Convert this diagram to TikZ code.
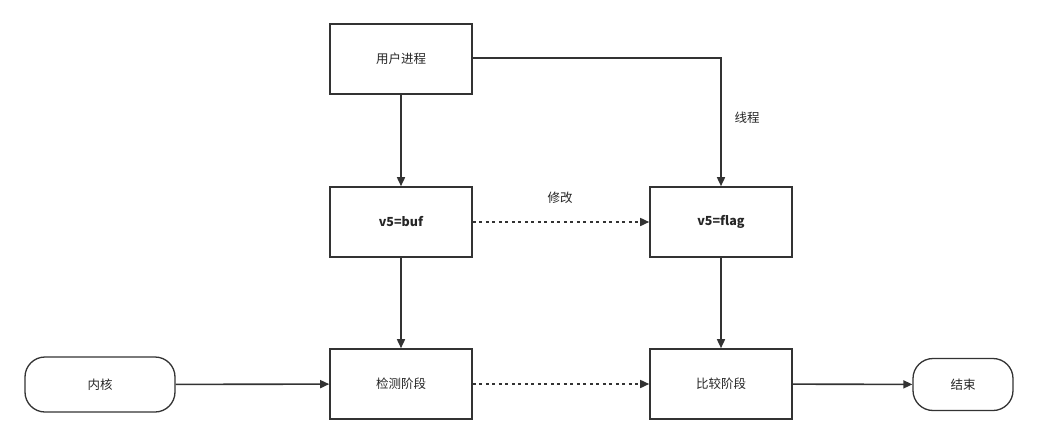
\documentclass[tikz,border=0pt]{standalone}
\usepackage{fontspec}
\setmainfont{Noto Sans CJK SC}
\usetikzlibrary{arrows.meta}
\begin{document}
\begin{tikzpicture}[x=1pt,y=-1pt,
  box/.style={draw=black!80,line width=1.6pt,minimum width=142pt,minimum height=70pt,inner sep=0pt,font=\fontsize{12.5}{14}\selectfont,text=black!85},
  term/.style={draw=black!80,line width=1.3pt,rounded corners=20pt,inner sep=0pt,font=\fontsize{12.5}{14}\selectfont,text=black!85},
  arr/.style={draw=black!80,line width=1.6pt,-{Triangle[length=9pt,width=8pt]}},
  darr/.style={arr,dash pattern=on 3pt off 3.5pt},
  lbl/.style={font=\fontsize{12.5}{14}\selectfont,text=black!85}]
\useasboundingbox (0,0) rectangle (1038,444);
\node[box] (user) at (401,59) {用户进程};
\node[box] (buf) at (401,222) {\bfseries v5=buf};
\node[box] (flag) at (721,222) {\bfseries v5=flag};
\node[box] (check) at (401,384) {检测阶段};
\node[box] (cmp) at (721,384) {比较阶段};
\node[term,minimum width=150pt,minimum height=55pt] (kernel) at (100,384.5) {内核};
\node[term,minimum width=100pt,minimum height=52pt] (end) at (963,384.5) {结束};
\draw[arr] (user.east) ++(0,-1) coordinate (ue) -| (flag.north);
\draw[arr] (user) -- (buf);
\draw[darr] (buf) -- (flag);
\draw[arr] (buf) -- (check);
\draw[arr] (flag) -- (cmp);
\draw[arr] (kernel) -- (check);
\draw[darr] (check) -- (cmp);
\draw[arr] (cmp) -- (end);
\node[lbl] (l1) at (747,118) {线程};
\node[lbl] (l2) at (560,198) {修改};
\end{tikzpicture}
\end{document}
